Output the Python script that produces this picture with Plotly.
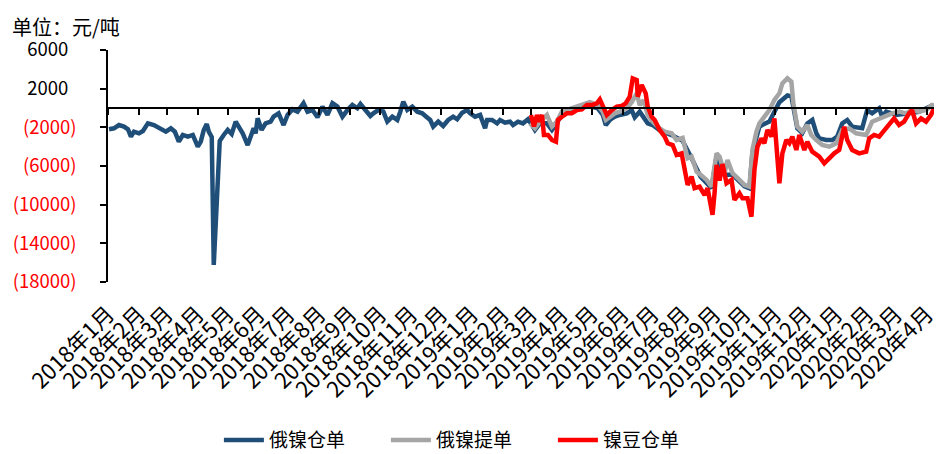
import pandas as pd
import plotly.graph_objects as go

# 俄镍仓单
blue_dates = [
    '2018-01-02', '2018-01-07', '2018-01-12', '2018-01-17', '2018-01-21', '2018-01-24', '2018-01-27', '2018-02-01', '2018-02-05', '2018-02-10',
    '2018-02-16', '2018-02-23', '2018-02-28', '2018-03-05', '2018-03-09', '2018-03-13', '2018-03-17', '2018-03-22', '2018-03-27', '2018-04-01',
    '2018-04-04', '2018-04-07', '2018-04-10', '2018-04-12', '2018-04-15', '2018-04-17', '2018-04-21', '2018-04-23', '2018-04-27', '2018-05-01',
    '2018-05-05', '2018-05-09', '2018-05-12', '2018-05-16', '2018-05-21', '2018-05-24', '2018-05-27', '2018-05-29', '2018-05-31', '2018-06-04',
    '2018-06-08', '2018-06-13', '2018-06-16', '2018-06-21', '2018-06-26', '2018-06-30', '2018-07-05', '2018-07-10', '2018-07-16', '2018-07-20',
    '2018-07-25', '2018-07-30', '2018-08-04', '2018-08-09', '2018-08-14', '2018-08-19', '2018-08-24', '2018-08-29', '2018-09-03', '2018-09-08',
    '2018-09-11', '2018-09-16', '2018-09-21', '2018-09-24', '2018-09-29', '2018-10-04', '2018-10-08', '2018-10-13', '2018-10-18', '2018-10-21',
    '2018-10-24', '2018-10-28', '2018-11-02', '2018-11-07', '2018-11-12', '2018-11-16', '2018-11-20', '2018-11-23', '2018-11-28', '2018-12-03',
    '2018-12-08', '2018-12-13', '2018-12-17', '2018-12-22', '2018-12-27', '2018-12-30', '2019-01-04', '2019-01-09', '2019-01-14', '2019-01-16',
    '2019-01-21', '2019-01-26', '2019-01-29', '2019-02-03', '2019-02-08', '2019-02-11', '2019-02-16', '2019-02-21', '2019-02-26',
    '2019-03-02', '2019-03-05', '2019-03-10', '2019-03-17', '2019-03-22', '2019-03-27', '2019-04-01', '2019-04-06', '2019-04-12', '2019-04-21', '2019-04-29',
    '2019-05-07', '2019-05-12', '2019-05-15', '2019-05-19', '2019-05-24', '2019-05-29', '2019-06-05', '2019-06-10', '2019-06-13', '2019-06-18', '2019-06-21', '2019-06-26', '2019-07-01',
    '2019-07-08', '2019-07-20', '2019-07-31', '2019-08-09', '2019-08-18', '2019-08-29', '2019-09-03', '2019-09-11', '2019-09-19', '2019-10-01', '2019-10-06', '2019-10-09', '2019-10-16', '2019-10-26',
    '2019-11-05', '2019-11-13', '2019-11-17', '2019-11-23', '2019-11-28', '2019-12-03', '2019-12-08', '2019-12-12', '2019-12-15', '2019-12-22', '2019-12-28',
    '2020-01-02', '2020-01-07', '2020-01-12', '2020-01-17', '2020-01-27', '2020-02-01', '2020-02-06', '2020-02-13', '2020-02-16', '2020-02-20', '2020-03-01', '2020-03-11', '2020-03-24', '2020-04-06', '2020-04-13',
]
blue_vals = [
    -2200, -2100, -1760, -1930, -2200, -2960, -2450, -2620, -2380, -1590,
    -1760, -2200, -2450, -2100, -2450, -3480, -2790, -2960, -2790, -4000,
    -3480, -2270, -1650, -2450, -3000, -16230, -6070, -3400, -2790, -2270,
    -2690, -1410, -1930, -2620, -3830, -2960, -2100, -2620, -1070, -2270,
    -1590, -1410, -900, -550, -1760, -720, -140, -380, 490, -380,
    -210, -960, 140, -720, 490, 140, -900, -210, 310, -30,
    410, -210, -830, -550, -210, -380, -1410, -900, -1240, -380,
    650, -210, 140, -380, -550, -900, -1240, -1930, -1410, -1860,
    -1240, -900, -1170, -480, -210, -550, -900, -720, -2100, -1240,
    -1240, -1590, -1240, -1520, -1410, -1760, -1410, -1590, -1170,
    -1760, -2270, -1590, -1590, -2270, -1590, -550, -380, -210, 140, 210,
    -30, -720, -1760, -1240, -900, -720, -550, -210, -960, -380, -900, -1590, -1760,
    -2300, -2800, -3400, -5200, -7100, -8300, -5000, -6900, -6900, -8100, -8300, -4600, -1900, -1400,
    600, 1300, 1200, -2100, -2600, -1600, -1240, -2600, -3140, -3310, -3310,
    -2960, -1590, -1240, -1930, -2100, -210, -550, -30, -900, -380, -720, -550, -400, 250, 100,
]

# 俄镍提单
gray_dates = [
    '2019-02-28', '2019-03-05', '2019-03-10', '2019-03-17', '2019-03-22', '2019-03-27', '2019-04-01', '2019-04-06', '2019-04-12', '2019-04-21',
    '2019-04-29', '2019-05-07', '2019-05-12', '2019-05-15', '2019-05-19', '2019-05-24', '2019-05-29', '2019-06-05', '2019-06-10', '2019-06-15',
    '2019-06-18', '2019-06-22', '2019-06-26', '2019-07-01', '2019-07-08', '2019-07-13', '2019-07-20', '2019-07-25', '2019-07-31', '2019-08-05',
    '2019-08-09', '2019-08-14', '2019-08-18', '2019-08-24', '2019-08-29', '2019-09-03', '2019-09-06', '2019-09-11', '2019-09-14', '2019-09-19',
    '2019-09-26', '2019-10-01', '2019-10-06', '2019-10-09', '2019-10-13', '2019-10-16', '2019-10-21', '2019-10-26', '2019-10-31', '2019-11-05',
    '2019-11-08', '2019-11-13', '2019-11-17', '2019-11-19', '2019-11-23', '2019-11-28', '2019-12-03', '2019-12-07', '2019-12-12', '2019-12-18',
    '2019-12-25', '2020-01-01', '2020-01-07', '2020-01-14', '2020-01-21', '2020-01-31', '2020-02-06', '2020-02-13', '2020-02-20', '2020-02-26',
    '2020-03-04', '2020-03-11', '2020-03-17', '2020-03-24', '2020-03-31', '2020-04-06', '2020-04-13',
]
gray_vals = [
    -1590, -2100, -1410, -720, -1930, -1410, -380, -210, 100, 400,
    600, 300, -380, -1240, -900, -550, -380, -30, 600, 1520,
    300, 800, -720, -1410, -2100, -2450, -2620, -3310, -3100, -5200,
    -5030, -6580, -6900, -7440, -8140, -4690, -5030, -6750, -5380, -6750,
    -7440, -7960, -8140, -4340, -2450, -1590, -900, -210, 830, 1520,
    2550, 3070, 2720, 490, -1930, -2450, -1760, -2790, -3310, -3830,
    -4000, -3650, -2270, -2100, -2620, -2790, -1410, -1070, -720, -550,
    -380, -550, -210, -380, -210, 310, 140,
]

# 镍豆仓单
red_dates = [
    '2019-03-01', '2019-03-04', '2019-03-07', '2019-03-09', '2019-03-12', '2019-03-14', '2019-03-18', '2019-03-22', '2019-03-26', '2019-03-28',
    '2019-04-01', '2019-04-06', '2019-04-11', '2019-04-16', '2019-04-21', '2019-04-26', '2019-05-01', '2019-05-06', '2019-05-09', '2019-05-12',
    '2019-05-16', '2019-05-21', '2019-05-26', '2019-05-31', '2019-06-04', '2019-06-08', '2019-06-11', '2019-06-15', '2019-06-16', '2019-06-20',
    '2019-06-24', '2019-06-26', '2019-06-30', '2019-07-03', '2019-07-08', '2019-07-13', '2019-07-16', '2019-07-21', '2019-07-25', '2019-07-30',
    '2019-08-02', '2019-08-05', '2019-08-09', '2019-08-12', '2019-08-17', '2019-08-22', '2019-08-25', '2019-08-30', '2019-09-01', '2019-09-03',
    '2019-09-06', '2019-09-09', '2019-09-13', '2019-09-18', '2019-09-21', '2019-09-26', '2019-09-29', '2019-10-04', '2019-10-08', '2019-10-11',
    '2019-10-14', '2019-10-18', '2019-10-21', '2019-10-24', '2019-10-28', '2019-10-31', '2019-11-02', '2019-11-05', '2019-11-08', '2019-11-12',
    '2019-11-15', '2019-11-18', '2019-11-22', '2019-11-25', '2019-11-30', '2019-12-03', '2019-12-08', '2019-12-15', '2019-12-20', '2019-12-25',
    '2019-12-30', '2020-01-04', '2020-01-09', '2020-01-12', '2020-01-17', '2020-01-24', '2020-01-31', '2020-02-03', '2020-02-08', '2020-02-13',
    '2020-02-18', '2020-02-23', '2020-02-28', '2020-03-04', '2020-03-09', '2020-03-14', '2020-03-17', '2020-03-21', '2020-03-26', '2020-03-31',
    '2020-04-05', '2020-04-08', '2020-04-11', '2020-04-13',
]
red_vals = [
    -720, -1900, -720, -1400, -720, -2790, -2790, -3310, -3480, -1240,
    -900, -550, -550, -210, -140, 310, 310, 490, 900, 140,
    -720, -210, 140, 210, 490, 1170, 3070, 2900, 1170, 2380,
    1520, 140, -900, -1240, -2270, -2960, -3650, -3830, -4860, -4690,
    -6070, -7960, -7100, -8300, -8140, -9000, -8300, -11060, -8820, -5890,
    -7500, -5800, -7790, -7440, -9510, -8820, -9340, -9340, -11240, -6410,
    -4000, -3140, -3650, -2270, -2960, -1070, -3830, -7790, -4690, -3310,
    -3650, -2960, -4340, -2790, -4340, -3480, -4520, -5030, -5720, -5200,
    -4690, -4340, -1930, -3310, -4340, -4690, -4520, -3140, -2790, -2960,
    -2270, -1590, -1070, -1760, -1410, -550, -210, -1590, -1070, -1410,
    -720, -30, -550, -1000,
]

series_names = ['俄镍仓单', '俄镍提单', '镍豆仓单']
series_colors = ['#1F4E79', '#A5A5A5', '#FF0000']

y_tickvals = [-18000, -14000, -10000, -6000, -2000, 2000, 6000]
x_tickvals = pd.date_range('2018-01-01', '2020-04-01', freq='MS')
x_ticktext = [f'{d.year}年{d.month}月' for d in x_tickvals]

# negative numbers in red with parentheses; positives padded so digits line up
y_ticktext = [f'{v}\u00a0\u00a0' if v > 0 else f'<span style="color:#FF0000">({-v})</span>'
              for v in y_tickvals]

FONT = 'Noto Sans CJK SC'
x_range = ['2018-01-01', '2020-04-14']
y_range = [-18000, 6000]

fig = go.Figure()
for name, color, xs, ys in zip(series_names, series_colors,
                               [blue_dates, gray_dates, red_dates],
                               [blue_vals, gray_vals, red_vals]):
    fig.add_trace(go.Scatter(x=xs, y=ys, mode='lines', name=name,
                             line=dict(color=color, width=4.5)))
# empty trace so the zero-crossing tick axis (x2) is created
fig.add_trace(go.Scatter(x=[], y=[], xaxis='x2', showlegend=False, hoverinfo='skip'))

# the page body adds an 8px offset, so the figure is a bit smaller than the window
fig.update_layout(
    width=934, height=446,
    margin=dict(l=100, r=2, t=42, b=172, autoexpand=False),
    plot_bgcolor='white', paper_bgcolor='white',
    font=dict(family=FONT, size=20, color='black'),
    showlegend=True,
    legend=dict(orientation='h', xref='container', yref='container',
                x=0.494, xanchor='center', y=0.031, yanchor='middle',
                font=dict(size=19), entrywidth=112, itemwidth=40),
    # bottom axis: only the rotated month labels
    xaxis=dict(type='date', range=x_range, tickmode='array',
               tickvals=x_tickvals, ticktext=x_ticktext, tickangle=-45,
               showgrid=False, showline=False, ticks='', zeroline=False,
               tickfont=dict(size=22), ticklabelstandoff=14, automargin=False),
    # axis crossing at zero, carrying the monthly tick marks
    xaxis2=dict(type='date', range=x_range, overlaying='x',
                anchor='free', position=(0 - y_range[0]) / (y_range[1] - y_range[0]),
                side='bottom', tickmode='array', tickvals=x_tickvals,
                showticklabels=False, ticks='outside', ticklen=6, tickwidth=1.5,
                tickcolor='black', showline=True, linecolor='black', linewidth=1.5,
                showgrid=False, zeroline=False, automargin=False),
    yaxis=dict(range=y_range, tickmode='array', tickvals=y_tickvals,
               ticktext=y_ticktext, showgrid=False, zeroline=False,
               showline=True, linecolor='black', linewidth=1.5,
               ticks='outside', ticklen=6, tickwidth=1.5, tickcolor='black',
               tickfont=dict(size=18.5), ticklabelstandoff=20, automargin=False),
    annotations=[dict(text='单位：元/吨', xref='paper', yref='paper',
                      x=-98 / 832, y=1 + 40 / 232, xanchor='left', yanchor='top',
                      showarrow=False, font=dict(size=20))],
)

fig.write_html('out.html')
